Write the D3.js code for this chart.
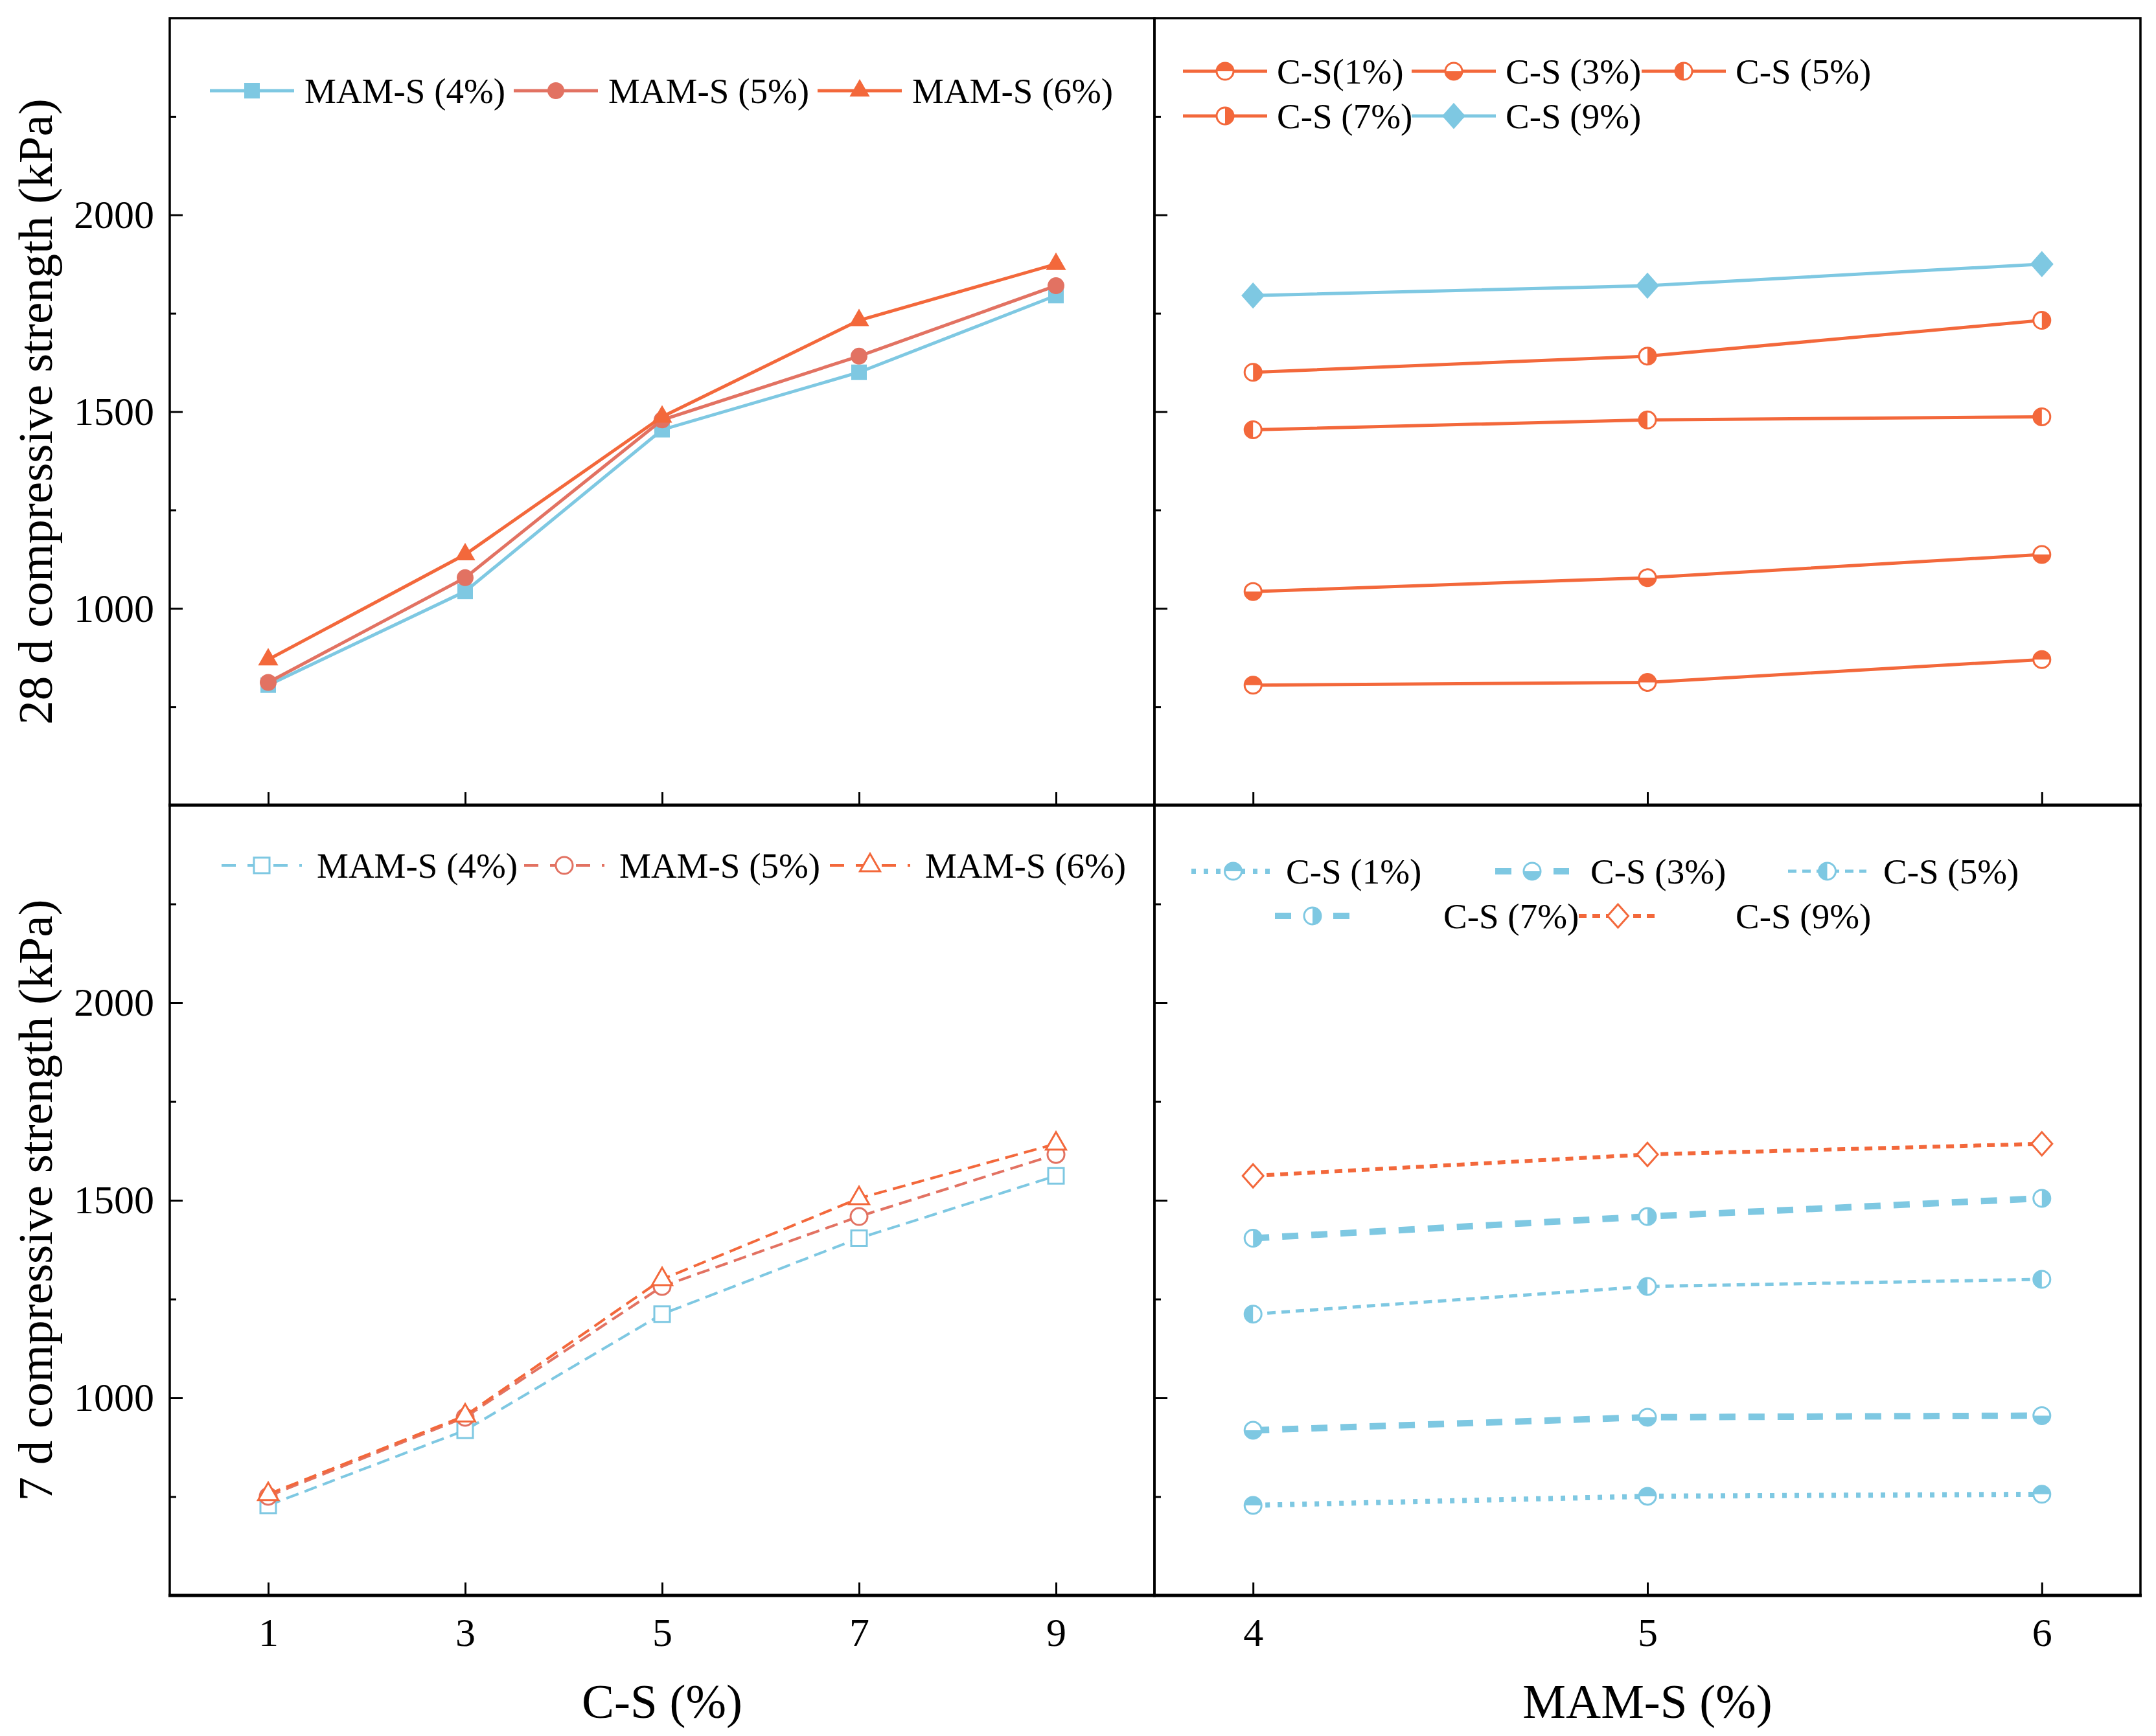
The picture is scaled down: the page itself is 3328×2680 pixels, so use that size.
<!DOCTYPE html>
<html>
<head>
<meta charset="utf-8">
<script src="https://cdn.jsdelivr.net/npm/d3@7"></script>
<style>
  body { margin: 0; background: #fff; }
  svg { display: block; font-family: "Liberation Serif", "Times New Roman", serif; }
</style>
</head>
<body>
<div id="chart"></div>
<script>
(function () {
  // ---- data ----
  const csLevels = [1, 3, 5, 7, 9];
  const mamLevels = [4, 5, 6];

  // 28 d strength, one array per MAM-S dose, at C-S = 1,3,5,7,9 %
  const d28Mam4 = [805, 1043, 1454, 1600, 1795];
  const d28Mam5 = [812, 1078, 1479, 1641, 1820];
  const d28Mam6 = [870, 1137, 1487, 1732, 1875];

  // 7 d strength
  const d7Mam4 = [728, 918, 1212, 1404, 1562];
  const d7Mam5 = [751, 951, 1282, 1459, 1616];
  const d7Mam6 = [756, 955, 1300, 1505, 1643];

  const yTicks = [1000, 1500, 2000];
  const yMinor = [750, 1250, 1750, 2250];
  const csTicks = [1, 3, 5, 7, 9];
  const mamTicks = [4, 5, 6];

  const mamNames = ["MAM-S (4%)", "MAM-S (5%)", "MAM-S (6%)"];
  const cs28Names = ["C-S(1%)", "C-S (3%)", "C-S (5%)", "C-S (7%)", "C-S (9%)"];
  const cs7Names = ["C-S (1%)", "C-S (3%)", "C-S (5%)", "C-S (7%)", "C-S (9%)"];

  // ---- layout ----
  const W = 3328, H = 2680;
  const X0 = 262, XM = 1782, X1 = 3304;
  const Y0 = 28, YM = 1243, Y1 = 2463;
  const blue = "#7EC8E2", salmon = "#E27262", orange = "#F3683B";
  const tickFont = 62, legendFont = 55, titleFont = 75;

  const svg = d3.select("#chart").append("svg")
    .attr("width", W).attr("height", H);
  svg.append("rect").attr("width", W).attr("height", H).attr("fill", "#fff");

  const xCs = d3.scaleLinear().domain([0, 10]).range([X0, XM]);
  const xMam = d3.scaleLinear().domain([3.75, 6.25]).range([XM, X1]);
  const yTop = d3.scaleLinear().domain([500, 2500]).range([YM, Y0]);
  const yBot = d3.scaleLinear().domain([500, 2500]).range([Y1, YM]);

  const d28 = [d28Mam4, d28Mam5, d28Mam6];
  const d7 = [d7Mam4, d7Mam5, d7Mam6];
  // points along C-S for one MAM-S dose
  const byCs = (arr) => csLevels.map((c, i) => ({ x: c, y: arr[i] }));
  // points along MAM-S for one C-S dose
  const byMam = (set, i) => mamLevels.map((m, j) => ({ x: m, y: set[j][i] }));

  // ---- markers ----
  const R = 13;
  function drawMarker(g, st, cx, cy) {
    const m = g.append("g").attr("transform", `translate(${cx},${cy})`);
    const c = st.color;
    const open = st.fill === "open";
    if (st.shape === "square") {
      m.append("path").attr("d", d3.symbol(d3.symbolSquare, 24 * 24)())
        .attr("fill", open ? "#fff" : c)
        .attr("stroke", c).attr("stroke-width", open ? 3 : 0);
    } else if (st.shape === "circle") {
      m.append("circle").attr("r", R)
        .attr("fill", open ? "#fff" : c)
        .attr("stroke", c).attr("stroke-width", open ? 3 : 0);
    } else if (st.shape === "triangle") {
      m.append("path").attr("d", d3.symbol(d3.symbolTriangle, 420)())
        .attr("fill", open ? "#fff" : c)
        .attr("stroke", c).attr("stroke-width", open ? 3 : 0);
    } else if (st.shape === "diamond") {
      m.append("path").attr("d", "M0,-18L16,0L0,18L-16,0Z")
        .attr("fill", open ? "#fff" : c)
        .attr("stroke", c).attr("stroke-width", 3);
    } else if (st.shape === "half") {
      const angles = {
        top: [-Math.PI / 2, Math.PI / 2],
        bottom: [Math.PI / 2, Math.PI * 1.5],
        left: [Math.PI, Math.PI * 2],
        right: [0, Math.PI]
      }[st.fill];
      m.append("circle").attr("r", R).attr("fill", "#fff")
        .attr("stroke", c).attr("stroke-width", 3);
      m.append("path")
        .attr("d", d3.arc().innerRadius(0).outerRadius(R)
          .startAngle(angles[0]).endAngle(angles[1])())
        .attr("fill", c);
    }
  }

  function drawSeries(g, x, y, s) {
    const line = d3.line().x(d => x(d.x)).y(d => y(d.y));
    g.append("path").datum(s.points)
      .attr("d", line)
      .attr("fill", "none")
      .attr("stroke", s.color)
      .attr("stroke-width", s.width)
      .attr("stroke-dasharray", s.dash || null);
    s.points.forEach(p => drawMarker(g, s, x(p.x), y(p.y)));
  }

  function legendItem(g, s, x1, x2, ty, tx, label) {
    g.append("line")
      .attr("x1", x1).attr("x2", x2).attr("y1", ty).attr("y2", ty)
      .attr("stroke", s.color).attr("stroke-width", s.width)
      .attr("stroke-dasharray", s.dash || null);
    drawMarker(g, s, (x1 + x2) / 2, ty);
    g.append("text").attr("x", tx).attr("y", ty + 19)
      .attr("font-size", legendFont).attr("fill", "#000").text(label);
  }

  // ---- axes / frames ----
  function styleAxis(a) {
    a.attr("font-size", null).attr("font-family", null);
    a.select(".domain").remove();
    a.selectAll("line").attr("stroke", "#000").attr("stroke-width", 3);
    a.selectAll("text").attr("font-size", tickFont).attr("fill", "#000");
  }

  function panel(x, y, xt, showY, showX) {
    const g = svg.append("g");
    const [xa, xb] = x.range();
    const [yb, ya] = y.range();

    const ay = d3.axisLeft(y).tickValues(yTicks).tickSize(-20).tickPadding(24)
      .tickFormat(showY ? d3.format("d") : "");
    styleAxis(g.append("g").attr("transform", `translate(${xa},0)`).call(ay));
    styleAxis(g.append("g").attr("transform", `translate(${xa},0)`)
      .call(d3.axisLeft(y).tickValues(yMinor).tickSize(-10).tickFormat("")));

    const ax = d3.axisBottom(x).tickValues(xt).tickSize(-20).tickPadding(34)
      .tickFormat(showX ? d3.format("d") : "");
    styleAxis(g.append("g").attr("transform", `translate(0,${yb})`).call(ax));

    g.append("rect").attr("x", xa).attr("y", ya)
      .attr("width", xb - xa).attr("height", yb - ya)
      .attr("fill", "none").attr("stroke", "#000").attr("stroke-width", 3.5);
    g.append("line").attr("x1", xa - 2).attr("x2", xb + 2)
      .attr("y1", yb).attr("y2", yb)
      .attr("stroke", "#000").attr("stroke-width", 5);
    return g;
  }

  const gTL = panel(xCs, yTop, csTicks, true, false);
  const gTR = panel(xMam, yTop, mamTicks, false, false);
  const gBL = panel(xCs, yBot, csTicks, true, true);
  const gBR = panel(xMam, yBot, mamTicks, false, true);

  // ---- 28 d, vs C-S ----
  const tlStyle = [
    { color: blue, shape: "square", fill: "solid" },
    { color: salmon, shape: "circle", fill: "solid" },
    { color: orange, shape: "triangle", fill: "solid" }
  ];
  const tlSeries = tlStyle.map((st, k) =>
    Object.assign({ width: 5, points: byCs(d28[k]) }, st));
  tlSeries.forEach(s => drawSeries(gTL, xCs, yTop, s));
  [324, 793, 1262].forEach((lx, k) =>
    legendItem(gTL, tlSeries[k], lx, lx + 130, 140, lx + 146, mamNames[k]));

  // ---- 28 d, vs MAM-S ----
  const trStyle = [
    { color: orange, shape: "half", fill: "top" },
    { color: orange, shape: "half", fill: "bottom" },
    { color: orange, shape: "half", fill: "left" },
    { color: orange, shape: "half", fill: "right" },
    { color: blue, shape: "diamond", fill: "solid" }
  ];
  const trSeries = trStyle.map((st, i) =>
    Object.assign({ width: 5, points: byMam(d28, i) }, st));
  trSeries.forEach(s => drawSeries(gTR, xMam, yTop, s));
  const trPos = [[1826, 110], [2179, 110], [2534, 110], [1826, 179], [2179, 179]];
  trPos.forEach(([lx, ly], i) =>
    legendItem(gTR, trSeries[i], lx, lx + 130, ly, lx + 145, cs28Names[i]));

  // ---- 7 d, vs C-S ----
  const blStyle = [
    { color: blue, shape: "square", fill: "open" },
    { color: salmon, shape: "circle", fill: "open" },
    { color: orange, shape: "triangle", fill: "open" }
  ];
  const blSeries = blStyle.map((st, k) =>
    Object.assign({ width: 4, dash: "20,10", points: byCs(d7[k]) }, st));
  blSeries.forEach(s => drawSeries(gBL, xCs, yBot, s));
  [342, 809, 1281].forEach((lx, k) =>
    legendItem(gBL, Object.assign({}, blSeries[k], { dash: "22,18" }),
      lx, lx + 124, 1336, lx + 147, mamNames[k]));

  // ---- 7 d, vs MAM-S ----
  const brStyle = [
    { color: blue, shape: "half", fill: "top", width: 8, dash: "7,12" },
    { color: blue, shape: "half", fill: "bottom", width: 10, dash: "25,20" },
    { color: blue, shape: "half", fill: "left", width: 5, dash: "13,9" },
    { color: blue, shape: "half", fill: "right", width: 10, dash: "25,20" },
    { color: orange, shape: "diamond", fill: "open", width: 6, dash: "12,9" }
  ];
  const brSeries = brStyle.map((st, i) =>
    Object.assign({ points: byMam(d7, i) }, st));
  brSeries.forEach(s => drawSeries(gBR, xMam, yBot, s));
  const brPos = [
    [1839, 1968, 1345, 1985], [2308, 2422, 1345, 2455], [2760, 2881, 1345, 2907],
    [1968, 2084, 1414, 2228], [2437, 2558, 1414, 2679]
  ];
  brPos.forEach(([a, b, ly, tx], i) =>
    legendItem(gBR, brSeries[i], a, b, ly, tx, cs7Names[i]));

  // ---- titles ----
  const titles = svg.append("g").attr("font-size", titleFont).attr("fill", "#000");
  titles.append("text").attr("text-anchor", "middle")
    .attr("transform", `translate(80,${(Y0 + YM) / 2}) rotate(-90)`)
    .text("28 d compressive strength (kPa)");
  titles.append("text").attr("text-anchor", "middle")
    .attr("transform", `translate(80,${(YM + Y1) / 2}) rotate(-90)`)
    .text("7 d compressive strength (kPa)");
  titles.append("text").attr("text-anchor", "middle")
    .attr("x", (X0 + XM) / 2).attr("y", 2652).text("C-S (%)");
  titles.append("text").attr("text-anchor", "middle")
    .attr("x", (XM + X1) / 2).attr("y", 2652).text("MAM-S (%)");
})();
</script>
</body>
</html>
